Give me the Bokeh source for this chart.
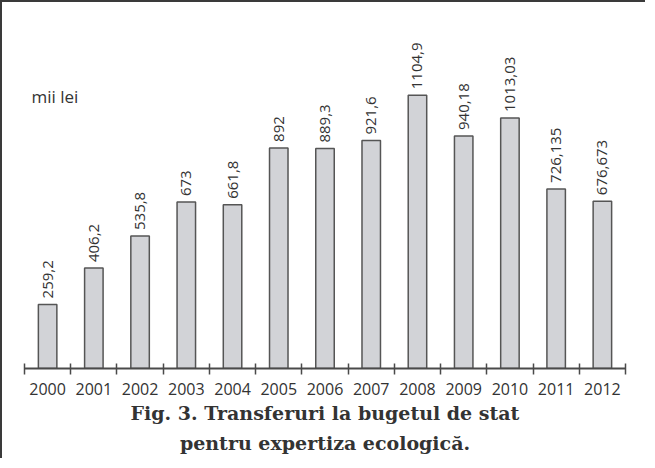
import math
from bokeh.plotting import figure
from bokeh.models import Range1d, FixedTicker, ColumnDataSource, LabelSet, Label, Title
from bokeh.core.properties import value
from bokeh.embed import file_html
from bokeh.resources import INLINE

years = ["2000", "2001", "2002", "2003", "2004", "2005", "2006",
         "2007", "2008", "2009", "2010", "2011", "2012"]
values = [259.2, 406.2, 535.8, 673, 661.8, 892, 889.3,
          921.6, 1104.9, 940.18, 1013.03, 726.135, 676.673]
value_labels = ["259,2", "406,2", "535,8", "673", "661,8", "892", "889,3",
                "921,6", "1104,9", "940,18", "1013,03", "726,135", "676,673"]
unit_label = "mii lei"
title_lines = ["Fig. 3. Transferuri la bugetul de stat",
               "pentru expertiza ecologică."]

centers = [i + 0.5 for i in range(len(years))]
bounds = list(range(len(years) + 1))
src = ColumnDataSource(dict(x=centers, top=values, label=value_labels))

TXT = "#333333"
LINE = "#4a4a4a"

p = figure(width=645, height=458,
           x_range=Range1d(0, len(years)), y_range=Range1d(0, 1480),
           output_backend="svg", toolbar_location=None,
           y_axis_location=None,
           min_border_left=22, min_border_right=22,
           min_border_top=0, min_border_bottom=92)
p.styles = {"border-left": "2px solid #3a3a3a", "border-top": "2px solid #3a3a3a"}
p.outline_line_color = None
p.xgrid.visible = False
p.ygrid.visible = False
p.background_fill_color = "white"
p.border_fill_color = "white"

p.vbar(x="x", top="top", bottom=0, width=0.4, source=src,
       fill_color="#d2d3d7", line_color="#555555", line_width=1.5)

labels = LabelSet(x="x", y="top", text="label", source=src,
                  angle=math.pi / 2, text_align="left", text_baseline="middle",
                  y_offset=6, text_font=value("Open Sans"),
                  text_font_size="15px", text_color=TXT)
p.add_layout(labels)

p.add_layout(Label(x=0.15, y=1100, text=unit_label, text_font="Open Sans",
                   text_font_size="17px", text_color=TXT,
                   text_baseline="alphabetic"))

ax = p.xaxis[0]
ax.ticker = FixedTicker(ticks=centers, minor_ticks=bounds)
ax.major_label_overrides = {c: y for c, y in zip(centers, years)}
ax.major_tick_line_color = None
ax.major_tick_in = 0
ax.major_tick_out = 0
ax.minor_tick_in = 5
ax.minor_tick_out = 6
ax.minor_tick_line_color = LINE
ax.minor_tick_line_width = 1.5
ax.axis_line_color = LINE
ax.axis_line_width = 2
ax.major_label_standoff = 8
ax.major_label_text_font = "Open Sans"
ax.major_label_text_font_size = "16px"
ax.major_label_text_color = TXT

for t, so in zip(title_lines, [4, 8]):
    p.add_layout(Title(text=t, align="center", text_font="DejaVu Serif",
                       text_font_size="19px", text_font_style="bold",
                       text_color=TXT, standoff=so), "below")

open("out.html", "w").write(file_html(p, INLINE))
